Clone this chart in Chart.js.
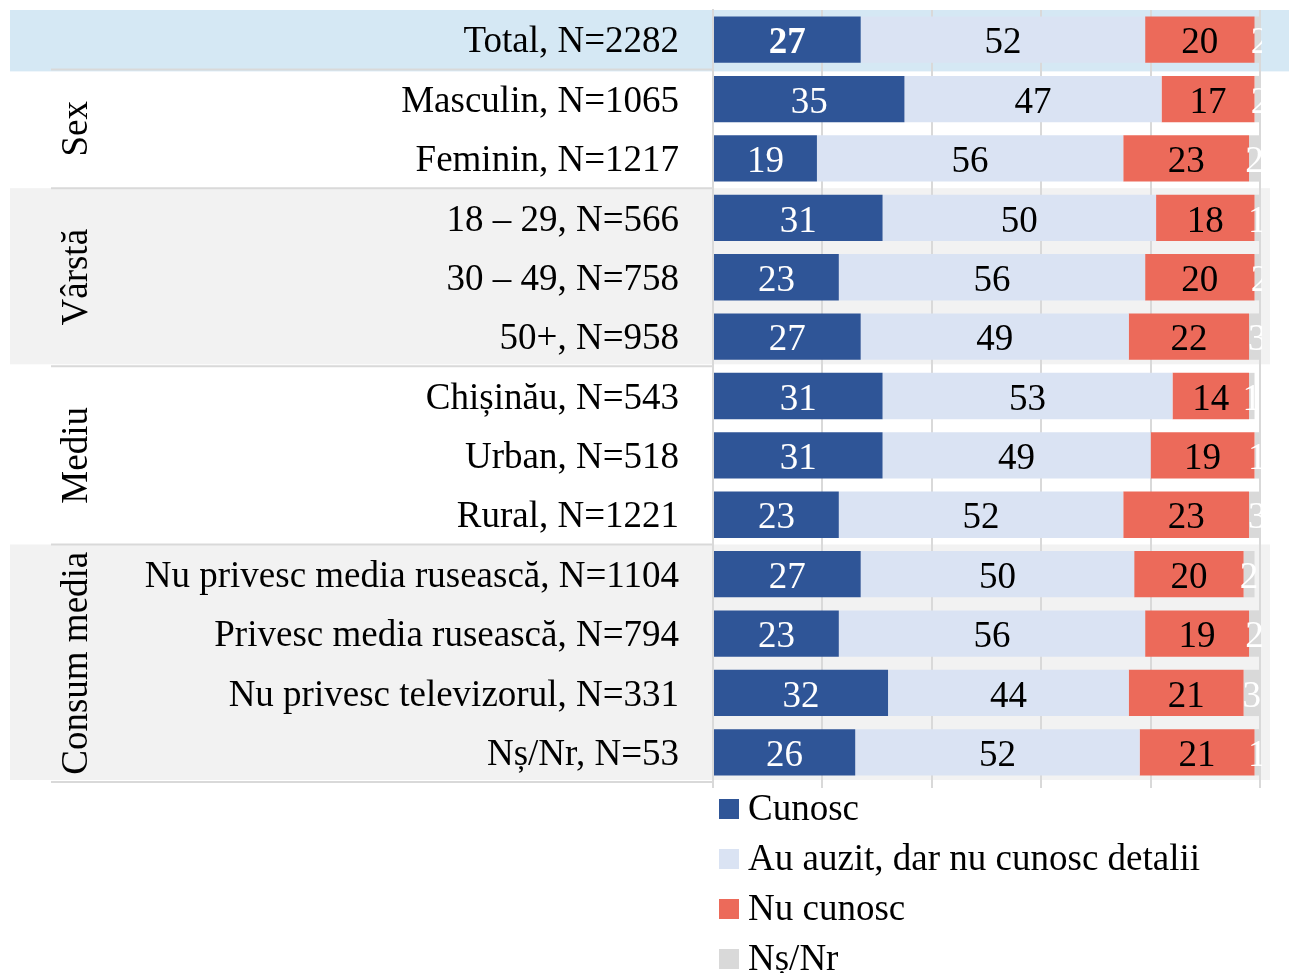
<!DOCTYPE html>
<html lang="ro">
<head>
<meta charset="utf-8">
<script src="https://cdn.jsdelivr.net/npm/chart.js@4/dist/chart.umd.min.js"></script>
<style>
    html, body { margin: 0; padding: 0; background: #fff; }
    #cadru { position: relative; width: 1289px; height: 973px; overflow: hidden; }
    #legenda { position: absolute; left: 719px; top: 783px; font-family: 'Liberation Serif', serif; font-size: 37px; color: #000; }
    .item { height: 50px; line-height: 50px; white-space: nowrap; }
    .patrat { display: inline-block; width: 20px; height: 20px; margin-right: 9px; vertical-align: middle; position: relative; top: -3px; }
</style>
</head>
<body>
<div id="cadru">
    <canvas id="grafic" width="1289" height="973"></canvas>
    <div id="legenda"></div>
</div>
<script>
//* categoriile (randurile graficului)
const categorii = [
    'Total, N=2282',
    'Masculin, N=1065',
    'Feminin, N=1217',
    '18 – 29, N=566',
    '30 – 49, N=758',
    '50+, N=958',
    'Chișinău, N=543',
    'Urban, N=518',
    'Rural, N=1221',
    'Nu privesc media rusească, N=1104',
    'Privesc media rusească, N=794',
    'Nu privesc televizorul, N=331',
    'Nș/Nr, N=53'
];

//* valorile pe serii (%)
const cunosc      = [27, 35, 19, 31, 23, 27, 31, 31, 23, 27, 23, 32, 26];
const auAuzit     = [52, 47, 56, 50, 56, 49, 53, 49, 52, 50, 56, 44, 52];
const nuCunosc    = [20, 17, 23, 18, 20, 22, 14, 19, 23, 20, 19, 21, 21];
const nsNr        = [2, 2, 2, 1, 2, 3, 1, 1, 3, 2, 2, 3, 1];

const numeSerii = ['Cunosc', 'Au auzit, dar nu cunosc detalii', 'Nu cunosc', 'Nș/Nr'];
const culori = ['#2f5597', '#dae3f3', '#ec6a5a', '#d9d9d9'];
const culoriText = ['#ffffff', '#000000', '#000000', '#ffffff'];

//* grupurile din stanga
const grupuri = ['Sex', 'Vârstă', 'Mediu', 'Consum media'];
const grupStart = [1, 3, 6, 9];
const grupSfarsit = [2, 5, 8, 12];
const grupGri = [false, true, false, true];

const FONT = 'Liberation Serif';
Chart.defaults.font.family = FONT;

//* fundaluri, linii si etichete de grup
const pluginFundal = {
    id: 'fundal',
    beforeDraw(chart) {
        const ctx = chart.ctx;
        const y = chart.scales.y;
        const pas = y.getPixelForValue(1) - y.getPixelForValue(0);
        const sus = i => y.getPixelForValue(i) - pas / 2;
        const jos = i => y.getPixelForValue(i) + pas / 2;
        ctx.save();
        //* randul Total evidentiat
        ctx.fillStyle = '#d5e8f4';
        ctx.fillRect(10, sus(0), 1279, jos(0) - sus(0) + 2);
        //* benzi gri
        grupuri.forEach((g, k) => {
            if (!grupGri[k]) return;
            ctx.fillStyle = '#f2f2f2';
            ctx.fillRect(10, sus(grupStart[k]), 1260, jos(grupSfarsit[k]) - sus(grupStart[k]) - 2);
        });
        //* linii de separare
        ctx.strokeStyle = '#d9d9d9';
        ctx.lineWidth = 2;
        const linii = [jos(0)].concat(grupSfarsit.map(i => jos(i)));
        linii.forEach(ly => {
            ctx.beginPath();
            ctx.moveTo(51, ly);
            ctx.lineTo(chart.chartArea.left, ly);
            ctx.stroke();
        });
        ctx.restore();
    },
    afterDraw(chart) {
        const ctx = chart.ctx;
        const y = chart.scales.y;
        ctx.save();
        ctx.fillStyle = '#000';
        ctx.font = `37px "${FONT}"`;
        ctx.textAlign = 'center';
        ctx.textBaseline = 'middle';
        grupuri.forEach((g, k) => {
            const cy = (y.getPixelForValue(grupStart[k]) + y.getPixelForValue(grupSfarsit[k])) / 2;
            ctx.save();
            ctx.translate(77, cy);
            ctx.rotate(-Math.PI / 2);
            ctx.fillText(g, 0, 0);
            ctx.restore();
        });
        ctx.restore();
    }
};

//* valorile scrise pe bare
const pluginValori = {
    id: 'valori',
    afterDatasetsDraw(chart) {
        const ctx = chart.ctx;
        const zona = chart.chartArea;
        ctx.save();
        ctx.beginPath();
        ctx.rect(zona.left, zona.top - 5, zona.right - zona.left + 2, zona.bottom - zona.top + 10);
        ctx.clip();
        ctx.textAlign = 'center';
        ctx.textBaseline = 'middle';
        chart.data.datasets.forEach((ds, d) => {
            chart.getDatasetMeta(d).data.forEach((bara, i) => {
                const bold = (i === 0 && d === 0) ? 'bold ' : '';
                ctx.font = `${bold}37px "${FONT}"`;
                ctx.fillStyle = culoriText[d];
                const cx = (bara.x + bara.base) / 2;
                ctx.fillText(String(ds.data[i]), cx, bara.y + 4);
            });
        });
        ctx.restore();
    }
};

const serii = [cunosc, auAuzit, nuCunosc, nsNr];

new Chart(document.getElementById('grafic').getContext('2d'), {
    type: 'bar',
    data: {
        labels: categorii,
        datasets: serii.map((valori, k) => ({
            label: numeSerii[k],
            data: valori,
            backgroundColor: culori[k],
            borderWidth: 0,
            barPercentage: 0.78,
            categoryPercentage: 1
        }))
    },
    options: {
        indexAxis: 'y',
        responsive: false,
        animation: false,
        layout: { padding: { top: 10, right: 29, left: 0, bottom: 0 } },
        plugins: {
            legend: { display: false },
            tooltip: { enabled: false }
        },
        scales: {
            x: {
                stacked: true,
                min: 0,
                max: 100,
                ticks: { display: false, stepSize: 20 },
                grid: { color: '#d9d9d9', lineWidth: 2, drawTicks: true, tickLength: 6 },
                border: { display: false },
                afterFit(scale) {
                    scale.height = 191;
                    scale.paddingLeft = 0;
                    scale.paddingRight = 0;
                }
            },
            y: {
                stacked: true,
                grid: { display: false, drawTicks: false },
                border: { display: true, color: '#d9d9d9', width: 2 },
                ticks: { color: '#000', padding: 34, labelOffset: 3, font: { size: 37 }, autoSkip: false },
                afterFit(scale) {
                    scale.width = 713;
                    scale.paddingTop = 0;
                    scale.paddingBottom = 0;
                }
            }
        }
    },
    plugins: [pluginFundal, pluginValori]
});

//* legenda verticala
const legenda = document.getElementById('legenda');
numeSerii.forEach((nume, k) => {
    const rand = document.createElement('div');
    rand.className = 'item';
    const p = document.createElement('span');
    p.className = 'patrat';
    p.style.background = culori[k];
    rand.appendChild(p);
    rand.appendChild(document.createTextNode(nume));
    legenda.appendChild(rand);
});
</script>
</body>
</html>
